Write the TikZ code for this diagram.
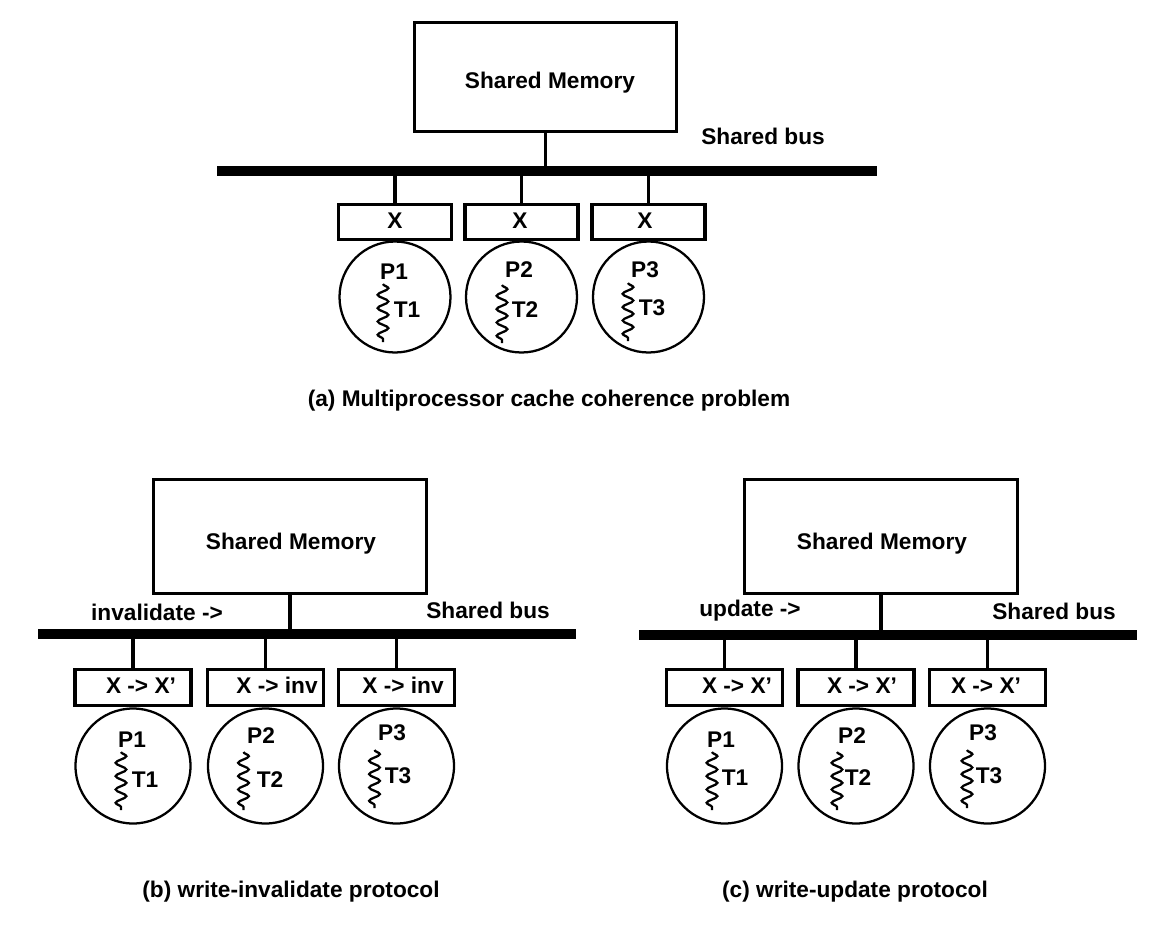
\documentclass[tikz,border=0pt]{standalone}
\usepackage{fontspec}
\setmainfont{Liberation Sans}
\usetikzlibrary{decorations.pathmorphing}
\begin{document}
\begin{tikzpicture}[x=0.75pt,y=-0.75pt,
  every node/.style={inner sep=0pt, outer sep=0pt},
  lbl/.style={anchor=base, font=\bfseries\fontsize{17}{20}\selectfont},
  membox/.style={draw, line width=2.8pt, rectangle},
  cachebox/.style={draw, line width=2.8pt, rectangle},
  proc/.style={draw, line width=1.7pt, circle},
  bus/.style={line width=7.5pt},
  tap/.style={line width=2.5pt},
  thread/.style={line width=1.7pt, decorate, decoration={snake, segment length=10pt, amplitude=4pt}}]
\useasboundingbox (0,0) rectangle (1158,928);

% ================= (a) =================
\node[membox, minimum width=262*0.75pt, minimum height=109*0.75pt] (memA) at (545.5,77) {};
\node[lbl] (memAt) at (550,88) {Shared Memory};
\coordinate (busAl) at (217,171);
\coordinate (busAr) at (877,171);
\draw[bus] (busAl) -- (busAr);
\node[lbl] (busAt) at (763,144) {Shared bus};
\draw[tap] (memA.south) -- (memA.south |- busAl);

\foreach \i/\x in {1/395,2/521.5,3/648.5}{
  \node[cachebox, minimum width=113*0.75pt, minimum height=35*0.75pt] (cA\i) at (\x,222) {};
  \node[proc, minimum size=111*0.75pt] (pA\i) at (\x,297) {};
}
\draw[tap] (cA1.north) -- (cA1.north |- busAl);
\draw[tap] (cA2.north) -- (cA2.north |- busAl);
\draw[tap, line width=1.8pt] (cA3.north) -- (cA3.north |- busAl);
\node[lbl] (xA1) at (395,228) {X};
\node[lbl] (xA2) at (520,228) {X};
\node[lbl] (xA3) at (645,228) {X};
\node[lbl] (PA1) at (394,279) {P1};
\node[lbl] (PA2) at (519,277) {P2};
\node[lbl] (PA3) at (645,277) {P3};
\node[lbl] (TA1) at (407,317) {T1};
\node[lbl] (TA2) at (525,317) {T2};
\node[lbl] (TA3) at (652,315) {T3};
\coordinate (wA1a) at (383,284); \coordinate (wA1b) at (383,342);
\coordinate (wA2a) at (502,285); \coordinate (wA2b) at (502,343);
\coordinate (wA3a) at (628,283); \coordinate (wA3b) at (628,341);
\draw[thread] (wA1a) -- (wA1b);
\draw[thread] (wA2a) -- (wA2b);
\draw[thread] (wA3a) -- (wA3b);
\node[lbl] (capA) at (549,406) {(a) Multiprocessor cache coherence problem};

% ================= (b) =================
\node[membox, minimum width=273*0.75pt, minimum height=114*0.75pt] (memB) at (290,536.5) {};
\node[lbl] (memBt) at (291,549) {Shared Memory};
\coordinate (busBl) at (38,634);
\coordinate (busBr) at (576,634);
\draw[bus] (busBl) -- (busBr);
\node[lbl] (invB) at (157,620) {invalidate ->};
\node[lbl] (busBt) at (488,618) {Shared bus};
\draw[tap] (memB.south) -- (memB.south |- busBl);

\foreach \i/\x in {1/133,2/265.5,3/396.5}{
  \node[cachebox, minimum width=116*0.75pt, minimum height=36*0.75pt] (cB\i) at (\x,687.5) {};
  \node[proc, minimum size=115*0.75pt] (pB\i) at (\x,766) {};
}
\draw[tap] (cB1.north) -- (cB1.north |- busBl);
\draw[tap] (cB2.north) -- (cB2.north |- busBl);
\draw[tap, line width=1.8pt] (cB3.north) -- (cB3.north |- busBl);
\node[lbl] (xB1) at (141,693) {X -> X’};
\node[lbl] (xB2) at (277,693) {X -> inv};
\node[lbl] (xB3) at (403,693) {X -> inv};
\node[lbl] (PB1) at (132,747) {P1};
\node[lbl] (PB2) at (261,743) {P2};
\node[lbl] (PB3) at (392,740) {P3};
\node[lbl] (TB1) at (145,787) {T1};
\node[lbl] (TB2) at (270,787) {T2};
\node[lbl] (TB3) at (398,783) {T3};
\coordinate (wB1a) at (121,752); \coordinate (wB1b) at (121,810);
\coordinate (wB2a) at (243.5,752); \coordinate (wB2b) at (243.5,810);
\coordinate (wB3a) at (374.5,750); \coordinate (wB3b) at (374.5,808);
\draw[thread] (wB1a) -- (wB1b);
\draw[thread] (wB2a) -- (wB2b);
\draw[thread] (wB3a) -- (wB3b);
\node[lbl] (capB) at (291,897) {(b) write-invalidate protocol};

% ================= (c) =================
\node[membox, minimum width=273*0.75pt, minimum height=114*0.75pt] (memC) at (881,536.5) {};
\node[lbl] (memCt) at (882,549) {Shared Memory};
\coordinate (busCl) at (639,635);
\coordinate (busCr) at (1137,635);
\draw[bus] (busCl) -- (busCr);
\node[lbl] (updC) at (750,616) {update ->};
\node[lbl] (busCt) at (1054,619) {Shared bus};
\draw[tap] (memC.south) -- (memC.south |- busCl);

\foreach \i/\x in {1/724.5,2/856,3/987.5}{
  \node[cachebox, minimum width=116*0.75pt, minimum height=36*0.75pt] (cC\i) at (\x,687.5) {};
  \node[proc, minimum size=115*0.75pt] (pC\i) at (\x,766) {};
}
\draw[tap] (cC1.north) -- (cC1.north |- busCl);
\draw[tap] (cC2.north) -- (cC2.north |- busCl);
\draw[tap, line width=1.8pt] (cC3.north) -- (cC3.north |- busCl);
\node[lbl] (xC1) at (737,693) {X -> X’};
\node[lbl] (xC2) at (862,693) {X -> X’};
\node[lbl] (xC3) at (986,693) {X -> X’};
\node[lbl] (PC1) at (721,747) {P1};
\node[lbl] (PC2) at (852,743) {P2};
\node[lbl] (PC3) at (983,740) {P3};
\node[lbl] (TC1) at (735,785) {T1};
\node[lbl] (TC2) at (858,785) {T2};
\node[lbl] (TC3) at (989,783) {T3};
\coordinate (wC1a) at (712,752); \coordinate (wC1b) at (712,810);
\coordinate (wC2a) at (837,752); \coordinate (wC2b) at (837,810);
\coordinate (wC3a) at (967,750); \coordinate (wC3b) at (967,808);
\draw[thread] (wC1a) -- (wC1b);
\draw[thread] (wC2a) -- (wC2b);
\draw[thread] (wC3a) -- (wC3b);
\node[lbl] (capC) at (855,897) {(c) write-update protocol};
\end{tikzpicture}
\end{document}
